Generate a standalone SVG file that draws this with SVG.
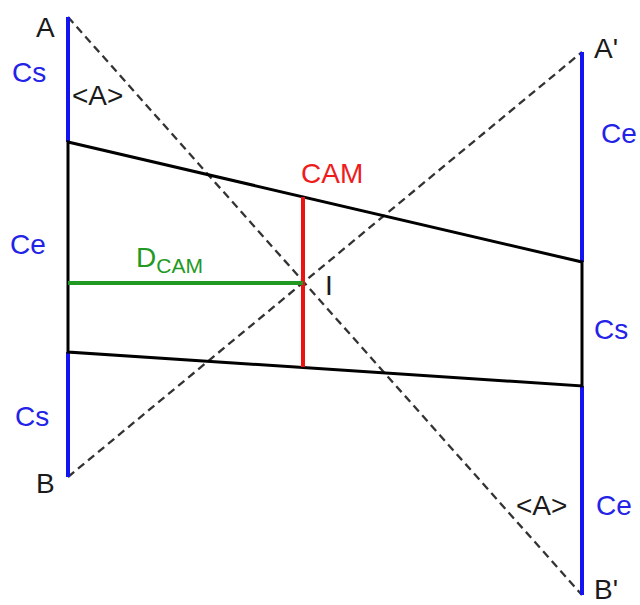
<svg xmlns="http://www.w3.org/2000/svg" width="640" height="605" viewBox="0 0 640 605">
<style>
text{font-family:"Liberation Sans",Arial,sans-serif;font-size:28px}
.k{fill:#1a1a1a}
.b{fill:#2323e8}
.r{fill:#ee1c1c}
.g{fill:#229922}
.dash{stroke:#333;stroke-width:2.3;stroke-dasharray:8 5;fill:none}
.blue{stroke:#1414f0;stroke-width:4;fill:none}
.blk{stroke:#000;stroke-width:3;fill:none;stroke-linejoin:miter}
</style>
<rect width="640" height="605" fill="#fff"/>
<g id="connectors">
<line class="dash" x1="68" y1="17" x2="582" y2="595"/>
<line class="dash" x1="68" y1="477" x2="582" y2="52"/>
</g>
<g id="left-screen">
<line class="blue" x1="68" y1="17" x2="68" y2="142"/>
<line class="blue" x1="68" y1="352" x2="68" y2="477"/>
<text class="k" x="36" y="37">A</text>
<text class="k" x="36" y="493">B</text>
<text class="b" x="12" y="82">Cs</text>
<text class="b" x="10" y="254">Ce</text>
<text class="b" x="15" y="426">Cs</text>
<text class="k" x="72" y="105">&lt;A&gt;</text>
</g>
<g id="right-screen">
<line class="blue" x1="582" y1="52" x2="582" y2="262"/>
<line class="blue" x1="582" y1="386" x2="582" y2="595"/>
<text class="k" x="594" y="58">A'</text>
<text class="k" x="594" y="599">B'</text>
<text class="b" x="601" y="143">Ce</text>
<text class="b" x="594" y="339">Cs</text>
<text class="b" x="596" y="515">Ce</text>
<text class="k" x="516" y="515">&lt;A&gt;</text>
</g>
<g id="camera-field">
<polygon class="blk" points="68,142 582,262 582,386 68,352"/>
</g>
<g id="cam">
<line stroke="#ee1111" stroke-width="4" x1="303" y1="197" x2="303" y2="367"/>
<text class="r" x="301" y="183">CAM</text>
</g>
<g id="dcam">
<line stroke="#229922" stroke-width="4" x1="68" y1="283" x2="303" y2="283"/>
<text class="g" x="136" y="267">D<tspan font-size="21" dy="6">CAM</tspan></text>
</g>
<g id="intersection">
<text class="k" x="325" y="295">I</text>
</g>
</svg>
